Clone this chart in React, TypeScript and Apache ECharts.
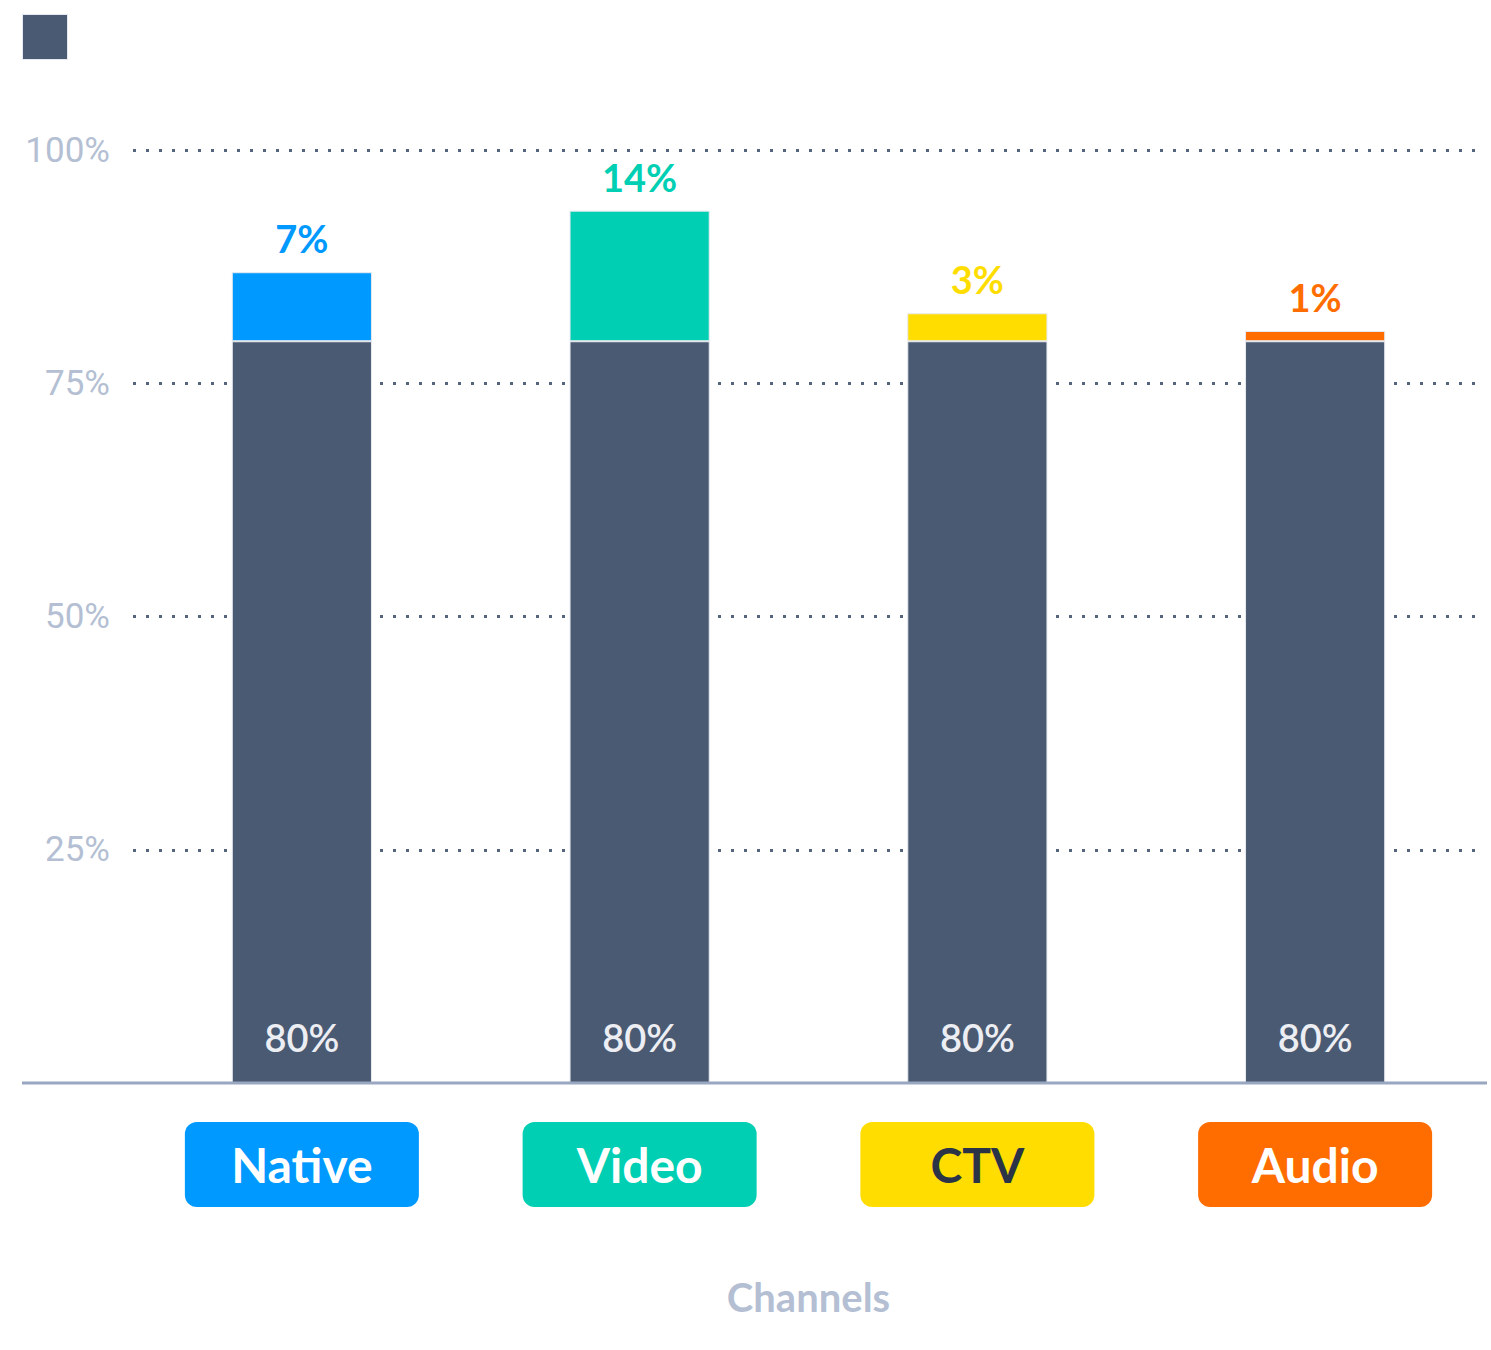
import React, { useEffect, useRef } from "react";
import * as echarts from "echarts";

const categories = ["Native", "Video", "CTV", "Audio"];
const baseValues = [79.5, 79.5, 79.5, 79.5];
const extraValues = [7.4, 14, 3, 1.1];
const channelColors = ["#0099ff", "#00cfb3", "#ffdd00", "#ff6d00"];
const channelTextColors = ["#ffffff", "#ffffff", "#2b3447", "#ffffff"];
const yTicks = { min: 0, max: 100, interval: 25 };

const BASE = "#4a5a72";
const MUTED = "#b4bfd3";
const FONT = "Lato, 'Noto Sans', sans-serif";

export default function App() {
  const ref = useRef<HTMLDivElement>(null);
  useEffect(() => {
    if (!ref.current) return;
    const chart = echarts.init(ref.current, null, { renderer: "svg" });
    const rich: Record<string, any> = {};
    categories.forEach((c, i) => {
      rich["c" + i] = {
        backgroundColor: channelColors[i],
        color: channelTextColors[i],
        borderRadius: 12,
        width: 234,
        height: 85,
        lineHeight: 85,
        align: "center",
        fontSize: 48,
        fontWeight: "bold",
        fontFamily: FONT,
      };
    });
    const pct = (p: any) => Math.round(p.value) + "%";
    chart.setOption({
      animation: false,
      backgroundColor: "#ffffff",
      legend: {
        left: 22,
        top: 14,
        padding: 0,
        itemWidth: 45,
        itemHeight: 45,
        icon: "rect",
        data: ["Base"],
        formatter: () => "",
        itemStyle: { borderColor: "#e6e9ef", borderWidth: 1 },
        selectedMode: false,
      },
      grid: { left: 133, right: 7, top: 150, bottom: 267 },
      xAxis: {
        type: "category",
        data: categories,
        axisLine: { show: false },
        axisTick: { show: false },
        name: "Channels",
        nameLocation: "middle",
        nameGap: 194,
        nameTextStyle: { color: MUTED, fontSize: 40, fontWeight: "bold", fontFamily: FONT },
        axisLabel: {
          margin: 39,
          formatter: (v: string) => {
            const i = categories.indexOf(v);
            return `{c${i}|${v}}`;
          },
          rich,
        },
      },
      yAxis: {
        type: "value",
        min: yTicks.min,
        max: yTicks.max,
        interval: yTicks.interval,
        axisLine: { show: false },
        axisTick: { show: false },
        axisLabel: {
          showMinLabel: false,
          formatter: "{value}%",
          color: MUTED,
          fontSize: 35,
          fontFamily: "Roboto, sans-serif",
          margin: 23,
        },
        splitLine: {
          showMinLine: false,
          lineStyle: { color: "#55657d", width: 3, type: [3, 10] },
        },
      },
      graphic: [
        {
          type: "line",
          shape: { x1: 22, y1: 1083, x2: 1487, y2: 1083 },
          style: { stroke: "#9aa7c1", lineWidth: 3 },
          z: 10,
        },
      ],
      series: [
        {
          name: "Base",
          type: "bar",
          stack: "s",
          barWidth: "41.5%",
          data: baseValues,
          itemStyle: { color: BASE, borderColor: "#e6e9ef", borderWidth: 1 },
          label: {
            show: true,
            position: "insideBottom",
            distance: 27,
            formatter: pct,
            color: "#eceef3",
            fontSize: 38,
            fontWeight: 600,
            fontFamily: FONT,
          },
        },
        {
          name: "Channel",
          type: "bar",
          stack: "s",
          data: extraValues.map((v, i) => ({
            value: v,
            itemStyle: { color: channelColors[i] },
            label: { color: channelColors[i] },
          })),
          itemStyle: { borderColor: "#e6e9ef", borderWidth: 1 },
          label: {
            show: true,
            position: "top",
            distance: 15,
            formatter: pct,
            fontSize: 38,
            fontWeight: "bold",
            fontFamily: FONT,
          },
        },
      ],
    });
    return () => chart.dispose();
  }, []);
  return (
    <div
      ref={ref}
      style={{ position: "absolute", left: 0, top: 0, width: 1491, height: 1350 }}
    />
  );
}
